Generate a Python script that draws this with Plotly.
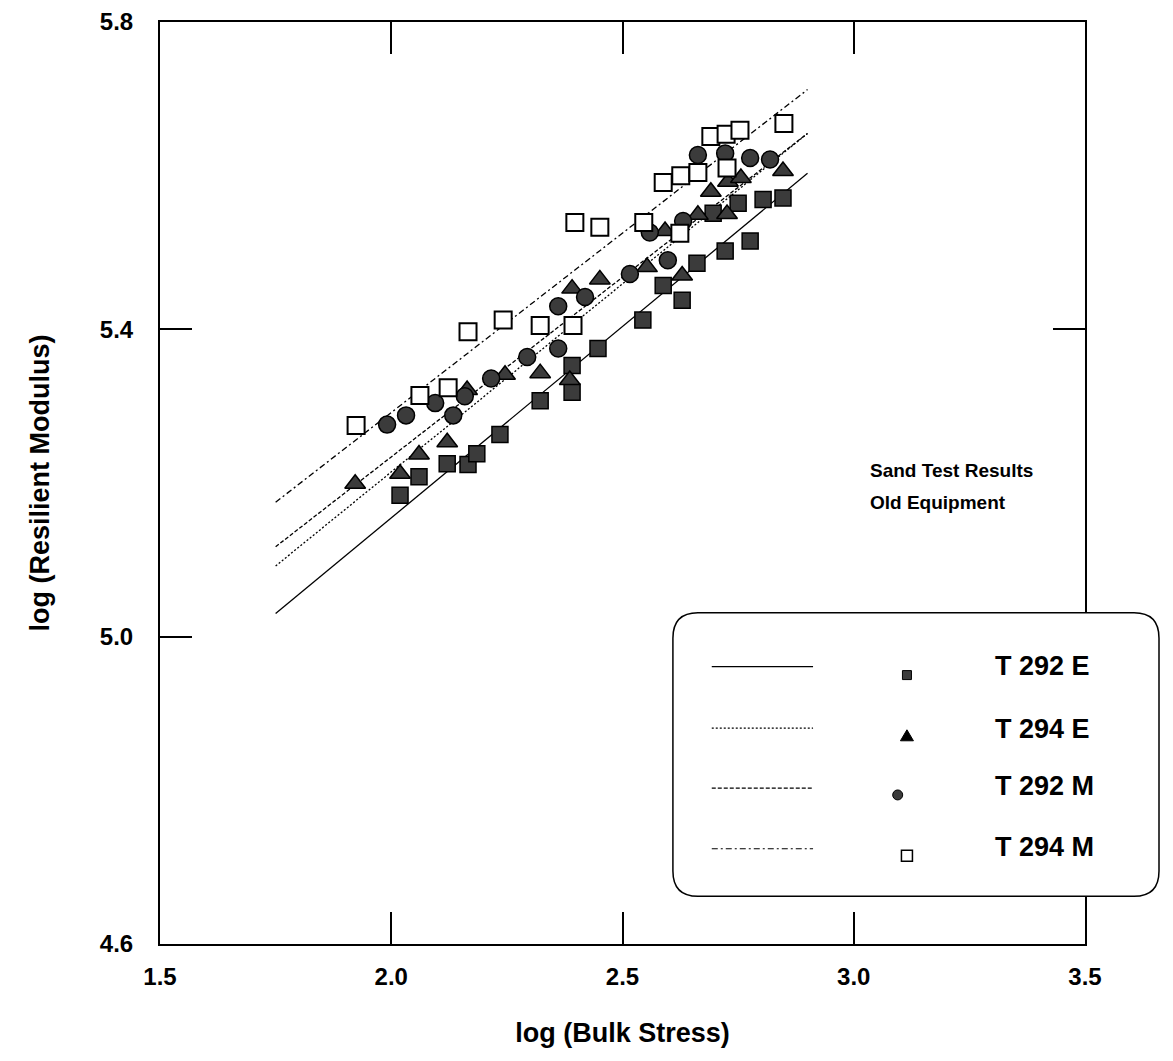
import plotly.graph_objects as go

# ---------------- data ----------------
t292e_x = [2.019, 2.060, 2.121, 2.166, 2.185, 2.235, 2.322, 2.391, 2.391, 2.447,
           2.544, 2.588, 2.629, 2.661, 2.722, 2.776, 2.696, 2.750, 2.804, 2.847]
t292e_y = [5.184, 5.208, 5.225, 5.224, 5.238, 5.263, 5.307, 5.318, 5.353, 5.375,
           5.412, 5.457, 5.438, 5.486, 5.502, 5.515, 5.551, 5.564, 5.569, 5.571]

t294e_x = [1.922, 2.019, 2.060, 2.121, 2.164, 2.246, 2.322, 2.386, 2.391, 2.451,
           2.553, 2.629, 2.592, 2.663, 2.726, 2.691, 2.728, 2.756, 2.847]
t294e_y = [5.199, 5.212, 5.237, 5.253, 5.321, 5.341, 5.343, 5.334, 5.453, 5.465,
           5.481, 5.470, 5.528, 5.549, 5.550, 5.579, 5.592, 5.597, 5.606]

t292m_x = [1.991, 2.032, 2.095, 2.134, 2.159, 2.216, 2.294, 2.361, 2.361, 2.419,
           2.516, 2.598, 2.559, 2.631, 2.663, 2.722, 2.776, 2.819]
t292m_y = [5.276, 5.288, 5.304, 5.288, 5.313, 5.336, 5.364, 5.375, 5.430, 5.442,
           5.472, 5.490, 5.526, 5.541, 5.627, 5.629, 5.623, 5.621]

t294m_x = [1.924, 2.062, 2.123, 2.166, 2.242, 2.322, 2.393, 2.397, 2.451, 2.546,
           2.624, 2.588, 2.626, 2.663, 2.726, 2.691, 2.724, 2.754, 2.849]
t294m_y = [5.275, 5.314, 5.324, 5.397, 5.412, 5.405, 5.405, 5.539, 5.533, 5.539,
           5.525, 5.591, 5.600, 5.604, 5.610, 5.651, 5.654, 5.659, 5.668]

# fitted lines
fit_x = [1.75, 2.90]
fit_t292e = [5.030, 5.603]
fit_t294e = [5.092, 5.655]
fit_t292m = [5.117, 5.655]
fit_t294m = [5.175, 5.712]

series_names = ["T 292 E", "T 294 E", "T 292 M", "T 294 M"]
x_ticks = [1.5, 2.0, 2.5, 3.0, 3.5]
y_ticks = [4.6, 5.0, 5.4, 5.8]

# ---------------- styles ----------------
FONT = "Liberation Sans, Arial, sans-serif"
DARK = "#3b3b3b"
dashes = ["solid", "2px,2px", "4px,2px", "6px,3px,2px,3px"]
markers = [
    dict(symbol="square", size=16, color=DARK, line=dict(color="black", width=1.5)),
    dict(symbol="triangle-up", size=18, color=DARK, line=dict(color="black", width=1.5)),
    dict(symbol="circle", size=17, color=DARK, line=dict(color="black", width=1.5)),
    dict(symbol="square", size=17, color="white", line=dict(color="black", width=2)),
]

xs = [t292e_x, t294e_x, t292m_x, t294m_x]
ys = [t292e_y, t294e_y, t292m_y, t294m_y]
fits = [fit_t292e, fit_t294e, fit_t292m, fit_t294m]

fig = go.Figure()

for i in range(4):
    fig.add_trace(go.Scatter(x=fit_x, y=fits[i], mode="lines",
                             line=dict(color="black", width=1.3, dash=dashes[i]),
                             showlegend=False, hoverinfo="skip"))
for i in range(4):
    fig.add_trace(go.Scatter(x=xs[i], y=ys[i], mode="markers", marker=markers[i],
                             name=series_names[i], showlegend=False))

# ---------------- hand drawn legend (drawn above the axis frame) ----------------
PW, PH = 925.0, 922.0   # plot area size in px


def px(x):
    return (x - 1.5) / 2.0


def py(y):
    return (y - 4.6) / 1.2


bx0, bx1, by0, by1 = 2.609, 3.660, 4.662, 5.031
rx, ry = 0.054, 0.033
path = (f"M {px(bx0+rx)},{py(by1)} L {px(bx1-rx)},{py(by1)} "
        f"Q {px(bx1)},{py(by1)} {px(bx1)},{py(by1-ry)} "
        f"L {px(bx1)},{py(by0+ry)} Q {px(bx1)},{py(by0)} {px(bx1-rx)},{py(by0)} "
        f"L {px(bx0+rx)},{py(by0)} Q {px(bx0)},{py(by0)} {px(bx0)},{py(by0+ry)} "
        f"L {px(bx0)},{py(by1-ry)} Q {px(bx0)},{py(by1)} {px(bx0+rx)},{py(by1)} Z")
shapes = [dict(type="path", xref="paper", yref="paper", path=path,
               line=dict(color="black", width=1.5), fillcolor="white", layer="above")]

leg_line_y = [4.961, 4.881, 4.803, 4.724]
leg_mark_y = [4.950, 4.871, 4.794, 4.715]
leg_text_y = [4.962, 4.880, 4.806, 4.726]
leg_mx = [3.115, 3.115, 3.095, 3.115]
annotations = []
for i in range(4):
    shapes.append(dict(type="line", xref="paper", yref="paper",
                       x0=px(2.693), x1=px(2.912), y0=py(leg_line_y[i]), y1=py(leg_line_y[i]),
                       line=dict(color="black", width=1.2, dash=dashes[i]), layer="above"))
    annotations.append(dict(x=3.30, y=leg_text_y[i], xref="x", yref="y", text=series_names[i],
                            showarrow=False, xanchor="left", yanchor="middle",
                            font=dict(family=FONT, size=27, color="black", weight="bold")))

# legend symbols as small shapes (so they sit above the legend box)
cx = [px(v) for v in leg_mx]
cy = [py(v) for v in leg_mark_y]
h = 4.5
shapes.append(dict(type="rect", xref="paper", yref="paper", layer="above",
                   x0=cx[0] - h / PW, x1=cx[0] + h / PW, y0=cy[0] - h / PH, y1=cy[0] + h / PH,
                   fillcolor=DARK, line=dict(color="black", width=1)))
t = 6.5
shapes.append(dict(type="path", xref="paper", yref="paper", layer="above",
                   path=(f"M {cx[1] - t / PW},{cy[1] - 5 / PH} L {cx[1] + t / PW},{cy[1] - 5 / PH} "
                         f"L {cx[1]},{cy[1] + 6 / PH} Z"),
                   fillcolor="black", line=dict(color="black", width=1)))
r = 5
shapes.append(dict(type="circle", xref="paper", yref="paper", layer="above",
                   x0=cx[2] - r / PW, x1=cx[2] + r / PW, y0=cy[2] - r / PH, y1=cy[2] + r / PH,
                   fillcolor=DARK, line=dict(color="black", width=1)))
q = 5.5
shapes.append(dict(type="rect", xref="paper", yref="paper", layer="above",
                   x0=cx[3] - q / PW, x1=cx[3] + q / PW, y0=cy[3] - q / PH, y1=cy[3] + q / PH,
                   fillcolor="white", line=dict(color="black", width=1.5)))

for txt, yy in [("Sand Test Results", 5.216), ("Old Equipment", 5.175)]:
    annotations.append(dict(x=3.031, y=yy, xref="x", yref="y", text=txt,
                            showarrow=False, xanchor="left", yanchor="middle",
                            font=dict(family=FONT, size=19, color="black", weight="bold")))

axis_common = dict(showline=True, linecolor="black", linewidth=2, mirror="ticks",
                   ticks="inside", ticklen=32, tickwidth=1.5, tickcolor="black",
                   showgrid=False, zeroline=False, automargin=False,
                   tickfont=dict(family=FONT, size=24, color="black", weight="bold"))

fig.update_layout(
    width=1173, height=1061,
    margin=dict(l=152, r=96, t=14, b=125),
    paper_bgcolor="white", plot_bgcolor="white",
    showlegend=False,
    shapes=shapes, annotations=annotations,
    xaxis=dict(range=[1.5, 3.5], tickvals=x_ticks, ticktext=[f"{v:.1f}" for v in x_ticks],
               ticklabelstandoff=10,
               title=dict(text="log (Bulk Stress)", standoff=34,
                          font=dict(family=FONT, size=27, color="black", weight="bold")),
               **axis_common),
    yaxis=dict(range=[4.6, 5.8], tickvals=y_ticks, ticktext=[f"{v:.1f}" for v in y_ticks],
               ticklabelstandoff=20,
               title=dict(text="log (Resilient Modulus)", standoff=42,
                          font=dict(family=FONT, size=27, color="black", weight="bold")),
               **axis_common),
)

fig.write_html("out.html")
